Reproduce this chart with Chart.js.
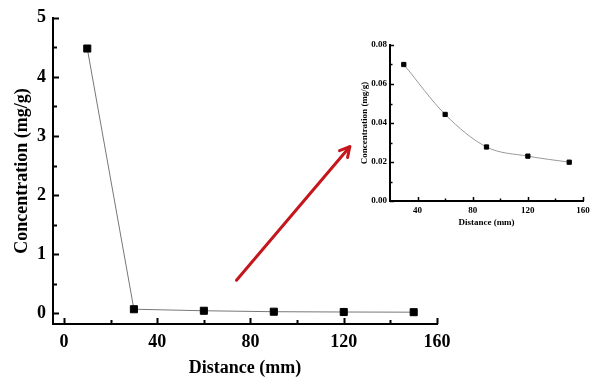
<!DOCTYPE html>
<html><head><meta charset="utf-8">
<script src="https://cdn.jsdelivr.net/npm/chart.js@4"></script>
<style>
body{margin:0;background:#fff;}
#wrap{position:relative;width:600px;height:388px;}
#main{position:absolute;left:0;top:0;}
#inset{position:absolute;left:340px;top:30px;}
</style></head><body>
<div id="wrap"><canvas id="main" width="600" height="388"></canvas><canvas id="inset" width="260" height="210"></canvas></div>
<script>
const distance = [10, 30, 60, 90, 120, 150];
const concentration = [4.48, 0.07, 0.044, 0.028, 0.023, 0.02];
const insetDistance = [30, 60, 90, 120, 150];
const insetConcentration = [0.070, 0.0444, 0.0277, 0.023, 0.0199];
const mainXTicks = [0, 40, 80, 120, 160];
const mainYTicks = [0, 1, 2, 3, 4, 5];
const insetXTicks = [40, 80, 120, 160];
const insetYTicks = [0, 0.02, 0.04, 0.06, 0.08];

const serif = 'Liberation Serif';

// ticks pointing inside the plot, with a minor tick between each pair
const inwardTicks = {
  id: 'inwardTicks',
  afterDraw(chart, args, opts) {
    const ctx = chart.ctx;
    const xs = chart.scales.x, ys = chart.scales.y;
    ctx.save();
    ctx.strokeStyle = '#000';
    ctx.lineWidth = opts.width;
    const vals = s => s.ticks.map(t => t.value);
    const mids = v => v.slice(1).map((b, i) => (b + v[i]) / 2);
    const drawX = (v, len) => v.forEach(val => {
      const p = Math.round(xs.getPixelForValue(val)) + 0.5;
      ctx.beginPath(); ctx.moveTo(p, xs.top); ctx.lineTo(p, xs.top - len); ctx.stroke();
    });
    const drawY = (v, len) => v.forEach(val => {
      const p = Math.round(ys.getPixelForValue(val)) + 0.5;
      ctx.beginPath(); ctx.moveTo(ys.right, p); ctx.lineTo(ys.right + len, p); ctx.stroke();
    });
    drawX(vals(xs), opts.major); drawX(mids(vals(xs)), opts.minor);
    drawY(vals(ys), opts.major); drawY(mids(vals(ys)), opts.minor);
    ctx.restore();
  }
};

const arrowPlugin = {
  id: 'arrow',
  afterDraw(chart, args, opts) {
    if (!opts.from) return;
    const ctx = chart.ctx;
    const xs = chart.scales.x, ys = chart.scales.y;
    const x1 = xs.getPixelForValue(opts.from[0]), y1 = ys.getPixelForValue(opts.from[1]);
    const x2 = xs.getPixelForValue(opts.to[0]), y2 = ys.getPixelForValue(opts.to[1]);
    const a = Math.atan2(y2 - y1, x2 - x1);
    ctx.save();
    ctx.strokeStyle = '#c4161c';
    ctx.lineWidth = 3;
    ctx.lineCap = 'round';
    ctx.lineJoin = 'round';
    ctx.beginPath(); ctx.moveTo(x1, y1); ctx.lineTo(x2, y2); ctx.stroke();
    ctx.beginPath();
    ctx.moveTo(x2 - 11 * Math.cos(a - 0.5), y2 - 11 * Math.sin(a - 0.5));
    ctx.lineTo(x2, y2);
    ctx.lineTo(x2 - 11 * Math.cos(a + 0.5), y2 - 11 * Math.sin(a + 0.5));
    ctx.stroke();
    ctx.restore();
  }
};

function axis(min, max, ticks, fontSize, pad, fmt, title, titlePad, size) {
  return {
    type: 'linear', min: min, max: max,
    afterBuildTicks: s => { s.ticks = ticks.map(v => ({ value: v })); },
    afterFit: s => { if (s.isHorizontal()) s.height = size; else s.width = size; },
    grid: { drawOnChartArea: false, drawTicks: false },
    border: { display: true, color: '#000', width: 2 },
    ticks: { color: '#000', padding: pad, font: { family: serif, weight: 'bold', size: fontSize }, callback: fmt },
    title: { display: true, text: title, color: '#000', padding: titlePad,
      font: { family: serif, weight: 'bold', size: fontSize } }
  };
}

new Chart(document.getElementById('main'), {
  type: 'line',
  data: {
    datasets: [{
      data: distance.map((d, i) => ({ x: d, y: concentration[i] })),
      borderColor: '#777', borderWidth: 1,
      pointStyle: 'rect', pointRadius: 5,
      pointBackgroundColor: '#000', pointBorderColor: '#000'
    }]
  },
  options: {
    responsive: false, animation: false, devicePixelRatio: 1,
    layout: { padding: { top: 12, right: 163, left: 0, bottom: 0 } },
    plugins: {
      legend: { display: false }, tooltip: { enabled: false },
      inwardTicks: { major: 6, minor: 4, width: 2 },
      arrow: { from: [74, 0.56], to: [122.6, 2.82] }
    },
    scales: {
      x: axis(-4.7, 160, mainXTicks, 18, 8, v => v, 'Distance (mm)', 9, 64),
      y: axis(-0.18, 5, mainYTicks, 18, 7, v => v, 'Concentration (mg/g)', 12, 53)
    }
  },
  plugins: [inwardTicks, arrowPlugin]
});

new Chart(document.getElementById('inset'), {
  type: 'line',
  data: {
    datasets: [{
      data: insetDistance.map((d, i) => ({ x: d, y: insetConcentration[i] })),
      borderColor: '#999', borderWidth: 1,
      cubicInterpolationMode: 'monotone',
      pointStyle: 'rect', pointRadius: 3,
      pointBackgroundColor: '#000', pointBorderColor: '#000'
    }]
  },
  options: {
    responsive: false, animation: false, devicePixelRatio: 1,
    layout: { padding: { top: 15, right: 17, left: 0, bottom: 0 } },
    plugins: {
      legend: { display: false }, tooltip: { enabled: false },
      inwardTicks: { major: 4, minor: 2.5, width: 1.5 }
    },
    scales: {
      x: axis(20, 160, insetXTicks, 9, 4, v => v, 'Distance (mm)', 12, 39),
      y: axis(0, 0.08, insetYTicks, 9, 3, v => v.toFixed(2), 'Concentration (mg/g)', 19, 50)
    }
  },
  plugins: [inwardTicks]
});
</script>
</body></html>
